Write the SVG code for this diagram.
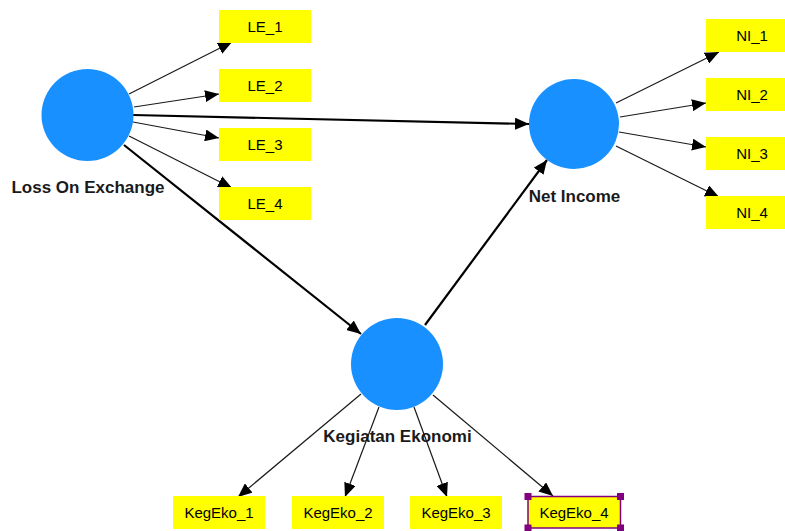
<svg xmlns="http://www.w3.org/2000/svg" width="785" height="531" viewBox="0 0 785 531">
<style>
.lv{fill:#1890ff;}
.ind{fill:#ffff00;}
.it{font-family:"Liberation Sans",Arial,sans-serif;font-size:15px;fill:#000;text-anchor:middle;}
.lt{font-family:"Liberation Sans",Arial,sans-serif;font-size:17px;font-weight:bold;fill:#1a1a1a;text-anchor:middle;}
.thin{stroke:#1a1a1a;stroke-width:1.2;fill:none;marker-end:url(#ah);}
.thick{stroke:#000;stroke-width:2.2;fill:none;marker-end:url(#ah2);}
.sel{fill:#ffff00;stroke:#800080;stroke-width:1.5;}
.h{fill:#800080;}
</style>
<defs>
<marker id="ah" markerUnits="userSpaceOnUse" markerWidth="14" markerHeight="12" viewBox="0 0 14 12" refX="14" refY="6" orient="auto">
<path d="M0,0 L14,6 L0,12 Z" fill="#000"/>
</marker>
<marker id="ah2" markerUnits="userSpaceOnUse" markerWidth="14" markerHeight="12" viewBox="0 0 14 12" refX="14" refY="6" orient="auto">
<path d="M0,0 L14,6 L0,12 Z" fill="#000"/>
</marker>
</defs>
<rect width="785" height="531" fill="#fff"/>
<g id="connectors">
<line class="thin" x1="129" y1="94" x2="232" y2="42"/>
<line class="thin" x1="134" y1="107" x2="219" y2="94"/>
<line class="thin" x1="133" y1="122" x2="219" y2="138"/>
<line class="thin" x1="129" y1="136" x2="232" y2="188"/>
<line class="thin" x1="616" y1="103" x2="719" y2="52"/>
<line class="thin" x1="620" y1="117" x2="706" y2="103"/>
<line class="thin" x1="619" y1="132" x2="706" y2="147"/>
<line class="thin" x1="616" y1="146" x2="719" y2="197"/>
<line class="thin" x1="361" y1="394" x2="238" y2="497"/>
<line class="thin" x1="379" y1="407" x2="345" y2="497"/>
<line class="thin" x1="414" y1="407" x2="447" y2="497"/>
<line class="thin" x1="433" y1="395" x2="553" y2="496"/>
<line class="thick" x1="133" y1="115" x2="529" y2="124"/>
<line class="thick" x1="124" y1="145" x2="361" y2="334"/>
<line class="thick" x1="425" y1="325" x2="547" y2="160"/>
</g>
<g id="loss_on_exchange">
<circle class="lv" cx="87.5" cy="115" r="46"/>
<text class="lt" x="88" y="193">Loss On Exchange</text>
</g>
<g id="net_income">
<circle class="lv" cx="574" cy="124" r="45"/>
<text class="lt" x="574.5" y="202">Net Income</text>
</g>
<g id="kegiatan_ekonomi">
<circle class="lv" cx="397" cy="364" r="46"/>
<text class="lt" x="397.5" y="442">Kegiatan Ekonomi</text>
</g>
<g id="LE_1"><rect class="ind" x="219" y="10" width="92" height="33"/><text class="it" x="265" y="32">LE_1</text></g>
<g id="LE_2"><rect class="ind" x="219" y="69" width="92" height="33"/><text class="it" x="265" y="91">LE_2</text></g>
<g id="LE_3"><rect class="ind" x="219" y="128" width="92" height="33"/><text class="it" x="265" y="150">LE_3</text></g>
<g id="LE_4"><rect class="ind" x="219" y="187" width="92" height="33"/><text class="it" x="265" y="209">LE_4</text></g>
<g id="NI_1"><rect class="ind" x="706" y="19" width="92" height="33"/><text class="it" x="752" y="41">NI_1</text></g>
<g id="NI_2"><rect class="ind" x="706" y="78" width="92" height="33"/><text class="it" x="752" y="100">NI_2</text></g>
<g id="NI_3"><rect class="ind" x="706" y="137" width="92" height="33"/><text class="it" x="752" y="159">NI_3</text></g>
<g id="NI_4"><rect class="ind" x="706" y="196" width="92" height="33"/><text class="it" x="752" y="218">NI_4</text></g>
<g id="KegEko_1"><rect class="ind" x="173" y="496" width="92" height="33"/><text class="it" x="219" y="518">KegEko_1</text></g>
<g id="KegEko_2"><rect class="ind" x="292" y="496" width="92" height="33"/><text class="it" x="338" y="518">KegEko_2</text></g>
<g id="KegEko_3"><rect class="ind" x="410" y="496" width="92" height="33"/><text class="it" x="456" y="518">KegEko_3</text></g>
<g id="KegEko_4">
<rect class="sel" x="528" y="496.5" width="92.5" height="31.5"/>
<text class="it" x="574" y="518">KegEko_4</text>
<rect class="h" x="524.5" y="493" width="7" height="7"/>
<rect class="h" x="617" y="493" width="7" height="7"/>
<rect class="h" x="524.5" y="524.5" width="7" height="7"/>
<rect class="h" x="617" y="524.5" width="7" height="7"/>
</g>
</svg>
